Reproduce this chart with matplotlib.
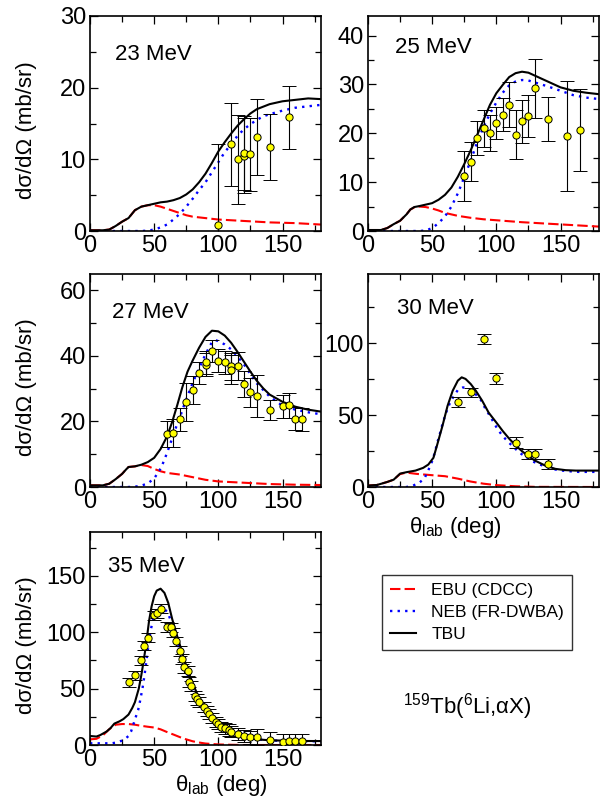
import matplotlib
matplotlib.use('Agg')
import matplotlib.pyplot as plt
from matplotlib.ticker import MultipleLocator
from matplotlib.lines import Line2D

plt.rcParams['font.family'] = ['Liberation Sans', 'DejaVu Sans']
plt.rcParams['mathtext.fontset'] = 'custom'
plt.rcParams['mathtext.rm'] = 'Liberation Sans'

# ---- 23 MeV ----
tbu23_x = [0, 10, 15, 20, 25, 30, 35, 40, 45, 50, 55, 60, 65, 70, 75, 80, 85, 90, 95, 100, 105, 110, 115, 120, 125, 130, 140, 150, 160, 170, 180]
tbu23_y = [0.1, 0.1, 0.2, 0.7, 1.3, 1.8, 2.9, 3.4, 3.6, 3.8, 4.0, 4.1, 4.3, 4.6, 5.1, 5.8, 6.8, 8.0, 9.5, 11.1, 12.4, 13.6, 14.7, 15.6, 16.4, 17.0, 17.7, 18.1, 18.3, 18.5, 18.4]
ebu23_x = [0, 10, 15, 20, 25, 30, 35, 40, 45, 50, 55, 60, 65, 70, 75, 80, 90, 100, 110, 120, 140, 160, 180]
ebu23_y = [0.1, 0.1, 0.2, 0.7, 1.3, 1.8, 2.9, 3.4, 3.6, 3.6, 3.4, 3.1, 2.8, 2.5, 2.2, 2.0, 1.8, 1.6, 1.5, 1.4, 1.2, 1.1, 0.9]
neb23_x = [0, 40, 45, 50, 55, 60, 65, 70, 75, 80, 85, 90, 95, 100, 105, 110, 115, 120, 125, 130, 135, 140, 150, 160, 170, 180]
neb23_y = [0, 0, 0.05, 0.2, 0.5, 0.9, 1.6, 2.4, 3.4, 4.5, 5.7, 6.8, 8.2, 9.6, 11.0, 12.1, 13.3, 14.2, 14.9, 15.5, 16.0, 16.3, 16.8, 17.2, 17.4, 17.6]
exp23_x = [100, 110, 115, 120, 120, 125, 130, 140, 155]
exp23_y = [0.8, 12.1, 10.0, 10.5, 10.9, 10.7, 13.1, 11.7, 15.9]
exp23_e = [11.3, 5.8, 6.2, 5.2, 5.2, 5.1, 5.3, 4.6, 4.4]

# ---- 25 MeV ----
tbu25_x = [0, 10, 15, 20, 25, 30, 33, 36, 40, 45, 50, 55, 60, 65, 70, 75, 80, 85, 90, 95, 100, 105, 110, 115, 120, 125, 130, 140, 150, 160, 170, 180]
tbu25_y = [0.2, 0.2, 0.6, 1.4, 2.1, 3.4, 4.4, 4.9, 5.1, 5.4, 5.7, 6.4, 7.4, 8.9, 11.1, 13.7, 16.5, 19.6, 22.7, 25.8, 28.2, 29.9, 31.5, 32.3, 32.6, 32.4, 31.8, 30.6, 29.4, 28.7, 28.3, 28.0]
ebu25_x = [0, 10, 15, 20, 25, 30, 33, 36, 40, 45, 50, 55, 60, 70, 80, 90, 100, 110, 120, 140, 160, 180]
ebu25_y = [0.2, 0.2, 0.6, 1.4, 2.1, 3.4, 4.4, 4.8, 5.0, 4.9, 4.6, 4.2, 3.7, 3.1, 2.7, 2.4, 2.2, 2.0, 1.8, 1.5, 1.2, 0.9]
neb25_x = [0, 40, 45, 50, 55, 60, 65, 70, 75, 80, 85, 90, 95, 100, 105, 110, 115, 120, 125, 130, 140, 150, 160, 170, 180]
neb25_y = [0, 0, 0.1, 0.6, 1.6, 3.0, 5.0, 7.7, 11.0, 14.4, 18.1, 21.3, 24.0, 26.3, 28.3, 29.8, 30.6, 30.9, 30.8, 30.4, 29.6, 28.7, 27.8, 27.3, 27.0]
exp25_x = [75, 80, 85, 90, 95, 100, 105, 110, 115, 120, 125, 130, 140, 155, 165]
exp25_y = [11.3, 14.2, 19.0, 21.0, 20.1, 22.1, 23.8, 25.8, 19.7, 22.5, 23.6, 29.2, 23.0, 19.4, 20.6]
exp25_e = [5.1, 4.0, 3.5, 3.8, 3.7, 3.3, 3.4, 4.6, 5.0, 4.4, 4.3, 6.0, 4.5, 11.2, 8.4]

# ---- 27 MeV ----
tbu27_x = [0, 10, 15, 20, 25, 28, 30, 35, 40, 45, 50, 55, 60, 64, 68, 72, 76, 80, 85, 90, 95, 100, 105, 110, 115, 120, 125, 130, 135, 140, 150, 160, 170, 180]
tbu27_y = [0.5, 0.5, 1.0, 2.4, 4.0, 5.3, 6.1, 6.3, 6.8, 7.6, 8.9, 11.6, 15.4, 19.8, 25.0, 30.5, 35.2, 38.6, 42.5, 45.8, 47.7, 47.5, 46.2, 44.0, 41.2, 38.2, 35.2, 32.4, 30.1, 28.2, 26.0, 24.5, 23.6, 23.0]
ebu27_x = [0, 10, 15, 20, 25, 28, 30, 35, 40, 45, 50, 55, 60, 70, 80, 90, 100, 110, 120, 130, 140, 160, 180]
ebu27_y = [0.5, 0.5, 1.0, 2.4, 4.0, 5.3, 6.1, 6.3, 6.7, 6.4, 5.5, 4.8, 4.3, 3.8, 3.0, 2.2, 1.7, 1.5, 1.3, 1.1, 0.9, 0.7, 0.6]
neb27_x = [0, 30, 35, 40, 45, 50, 55, 58, 61, 64, 67, 70, 73, 76, 80, 85, 90, 95, 98, 100, 105, 110, 115, 120, 125, 130, 135, 140, 150, 160, 170, 180]
neb27_y = [0, 0, 0.1, 0.4, 1.1, 2.6, 5.6, 8.3, 11.5, 14.8, 18.2, 21.2, 24.6, 27.8, 31.8, 36.2, 40.5, 44.2, 44.8, 44.5, 43.5, 42.0, 39.8, 37.4, 34.4, 31.6, 29.6, 27.6, 24.8, 23.6, 22.8, 22.2]
exp27_x = [60, 65, 70, 75, 80, 85, 90, 90, 95, 100, 105, 110, 110, 115, 120, 125, 130, 140, 150, 155, 160, 165]
exp27_y = [16.1, 16.4, 20.7, 25.9, 29.6, 34.7, 37.3, 38.1, 41.6, 38.6, 38.0, 36.8, 35.8, 37.0, 31.5, 28.9, 27.8, 23.4, 24.6, 25.0, 20.8, 20.7]
exp27_e = [4.0, 4.2, 3.5, 5.8, 4.2, 3.4, 3.5, 3.5, 3.4, 3.6, 3.4, 4.0, 4.5, 4.3, 4.0, 4.5, 6.5, 3.0, 3.4, 3.8, 3.5, 3.5]

# ---- 30 MeV ----
tbu30_x = [0, 7, 15, 20, 25, 30, 37, 43, 47, 51, 54, 58, 62, 66, 70, 73, 76, 80, 84, 89, 94, 100, 105, 110, 115, 120, 125, 130, 138, 146, 154, 162, 170, 180]
tbu30_y = [1.0, 1.4, 3.5, 5.1, 9.3, 10.3, 11.4, 13.3, 15.6, 20.3, 29.6, 42.4, 56.4, 66.9, 73.9, 76.2, 75.1, 71.6, 66.9, 59.9, 51.7, 44.8, 38.9, 33.6, 28.9, 24.9, 21.4, 18.4, 14.9, 12.6, 11.7, 11.4, 11.4, 11.4]
ebu30_x = [0, 7, 15, 20, 25, 30, 38, 50, 60, 70, 80, 90, 100, 115, 130, 180]
ebu30_y = [1.0, 1.4, 3.5, 5.1, 9.0, 10.0, 9.1, 8.2, 7.5, 5.8, 3.8, 2.3, 1.3, 0.5, 0.1, 0]
neb30_x = [0, 30, 35, 40, 44, 47, 50, 52, 54, 56, 58, 60, 62, 64, 67, 70, 74, 78, 82, 85, 88, 91, 95, 98, 101, 105, 109, 114, 118, 123, 128, 134, 141, 148, 156, 164, 172, 180]
neb30_y = [0, 0, 0.9, 3.0, 6.0, 11.6, 18, 23.8, 30.8, 37, 43.6, 49.4, 54.5, 58.7, 63.4, 67.4, 69.2, 68.5, 66.2, 63.4, 60.4, 55.2, 49.4, 44.8, 40.1, 35.4, 31.5, 27.3, 23.8, 21, 17.9, 15.6, 13.3, 11.7, 11, 10.5, 10.5, 10.5]
exp30_x = [70, 80, 90, 100, 115, 125, 130, 140]
exp30_y = [59.0, 65.7, 102.6, 75.5, 30.8, 23.1, 23.1, 16.1]
exp30_e = [3.3, 3.1, 3.5, 3.8, 3.6, 3.5, 3.5, 3.5]

# ---- 35 MeV ----
tbu35_x = [0, 5, 8, 13, 16, 19, 23, 26, 30, 33, 35, 38, 40, 42, 44, 46, 48, 50, 52, 55, 58, 61, 64, 67, 70, 73, 76, 80, 84, 88, 92, 96, 100, 104, 108, 112, 120, 130, 140, 160, 180]
tbu35_y = [8.0, 7.5, 8.8, 12, 15, 19, 21, 23, 27, 33, 38, 50, 62, 76, 92, 110, 123, 132, 137, 138.7, 135, 126, 112, 100, 89, 77, 67, 55, 44, 36, 30, 25, 20, 16, 12.5, 10, 7, 5, 4.2, 3.6, 3.5]
ebu35_x = [0, 5, 10, 15, 20, 25, 30, 35, 40, 45, 50, 55, 60, 65, 70, 75, 80, 85, 90, 100, 110, 120, 180]
ebu35_y = [5, 5.5, 8.5, 14, 18, 18.6, 18.6, 18, 17, 16.2, 15.5, 13.9, 11.5, 9.3, 7, 5, 3.3, 2.2, 1.3, 0.5, 0.2, 0, 0]
neb35_x = [0, 10, 17, 22, 25, 28, 30, 32, 34, 36, 37.5, 39, 41, 42.5, 44, 45.5, 47, 49, 51, 55, 58, 61, 63, 66, 70, 75, 80, 85, 90, 100, 110, 120, 140, 160, 180]
neb35_y = [1.5, 1.5, 1.5, 2.5, 4, 6, 8, 12, 19, 26, 31, 39, 51, 62, 75, 88, 100, 111, 118, 123, 121, 116.5, 110, 99, 84, 66, 50, 38, 29, 17, 10, 6.5, 4, 3.5, 3.3]
exp35_x = [30, 35, 40, 42, 45, 50, 52, 55, 60, 63, 65, 67, 70, 72, 73, 76, 77, 79, 82, 83, 85, 89, 91, 93, 95, 98, 100, 102, 105, 108, 110, 115, 120, 125, 130, 140, 150, 155, 160, 165]
exp35_y = [55.5, 62, 75.2, 88, 95.3, 115, 117, 121, 104.7, 104.5, 99.4, 92, 83.5, 76.1, 68.8, 65.8, 56, 52.2, 43.4, 40.4, 38.3, 33.9, 30.4, 27.4, 24.2, 20.6, 18.6, 16.2, 14.8, 13.3, 11.8, 9.7, 8.0, 6.8, 6.8, 4.4, 2.9, 3.8, 3.8, 3.5]
exp35_e = [4, 4, 4, 4, 4, 4, 4, 4, 4, 4, 4, 4, 4.5, 4.5, 4.5, 4.5, 4.5, 4.5, 4.5, 4.5, 4.5, 4.5, 4.5, 4.5, 4.5, 4.5, 4.5, 4.5, 5, 5, 5, 5, 5.5, 6, 7, 6.8, 7, 6, 6, 6]

panels = [
    ('23 MeV', (90, 16, 321, 231), 30, 10, 5, tbu23_x, tbu23_y, ebu23_x, ebu23_y, neb23_x, neb23_y, exp23_x, exp23_y, exp23_e, (0.11, 0.82)),
    ('25 MeV', (368, 16, 599, 231), 44, 10, 5, tbu25_x, tbu25_y, ebu25_x, ebu25_y, neb25_x, neb25_y, exp25_x, exp25_y, exp25_e, (0.117, 0.855)),
    ('27 MeV', (90, 274, 321, 487), 65, 20, 10, tbu27_x, tbu27_y, ebu27_x, ebu27_y, neb27_x, neb27_y, exp27_x, exp27_y, exp27_e, (0.095, 0.817)),
    ('30 MeV', (368, 274, 599, 487), 148, 50, 25, tbu30_x, tbu30_y, ebu30_x, ebu30_y, neb30_x, neb30_y, exp30_x, exp30_y, exp30_e, (0.125, 0.836)),
    ('35 MeV', (90, 532, 321, 745), 189, 50, 25, tbu35_x, tbu35_y, ebu35_x, ebu35_y, neb35_x, neb35_y, exp35_x, exp35_y, exp35_e, (0.08, 0.836)),
]

W, H = 605, 798
fig = plt.figure(figsize=(W / 100, H / 100), dpi=100)

for i, (lab, box, ytop, ymaj, ymin, tx, ty, ex, ey, nx, ny, dx, dy, de, lpos) in enumerate(panels):
    l, t, r, b = box
    ax = fig.add_axes([l / W, 1 - b / H, (r - l) / W, (b - t) / H])
    ax.plot(ex, ey, color='red', lw=1.5, ls=(0, (5, 2)))
    ax.plot(nx, ny, color='blue', lw=1.7, ls=(0, (1, 2.2)))
    ax.plot(tx, ty, color='black', lw=1.5)
    ax.errorbar(dx, dy, yerr=de, fmt='o', ms=5.2, mfc='yellow', mec='black', mew=0.7,
                ecolor='black', elinewidth=0.8, capsize=4.8, capthick=0.8, zorder=5)
    ax.set_xlim(0, 180)
    ax.set_ylim(0, ytop)
    ax.xaxis.set_major_locator(MultipleLocator(50))
    ax.xaxis.set_minor_locator(MultipleLocator(25))
    ax.yaxis.set_major_locator(MultipleLocator(ymaj))
    ax.yaxis.set_minor_locator(MultipleLocator(ymin))
    ax.tick_params(which='both', direction='in', top=True, right=True, labelsize=17, width=0.9, pad=3)
    ax.tick_params(which='major', length=6)
    ax.tick_params(which='minor', length=4)
    for s in ax.spines.values():
        s.set_linewidth(1.2)
    ax.text(lpos[0], lpos[1], lab, transform=ax.transAxes, fontsize=16, ha='left', va='center')
    if i in (0, 2, 4):
        ax.set_ylabel('dσ/dΩ (mb/sr)', fontsize=16)
        ax.yaxis.set_label_coords(-0.23, 0.47)
    if i == 3:
        ax.set_xlabel(r'θ$_\mathregular{lab}$ (deg)', fontsize=16)
        ax.xaxis.set_label_coords(0.376, -0.13)
    if i == 4:
        ax.set_xlabel(r'θ$_\mathregular{lab}$ (deg)', fontsize=16)
        ax.xaxis.set_label_coords(0.57, -0.13)

handles = [Line2D([], [], color='red', lw=1.5, ls=(0, (5, 2))),
           Line2D([], [], color='blue', lw=1.7, ls=(0, (1, 2.2))),
           Line2D([], [], color='black', lw=1.5)]
leg = fig.legend(handles, ['EBU (CDCC)', 'NEB (FR-DWBA)', 'TBU'], loc='upper left',
                 bbox_to_anchor=(382 / W, 1 - 575 / H), borderaxespad=0, fontsize=12.5,
                 frameon=True, fancybox=False, handlelength=1.5, labelspacing=0.4,
                 borderpad=0.45, handletextpad=0.9)
leg.get_frame().set_edgecolor('black')
leg.get_frame().set_linewidth(1.0)

fig.text(467 / W, 1 - 707 / H, r'$\mathregular{^{159}}$Tb($\mathregular{^{6}}$Li,αX)', fontsize=16,
         ha='center', va='center')

fig.savefig('out.png', dpi=100)
